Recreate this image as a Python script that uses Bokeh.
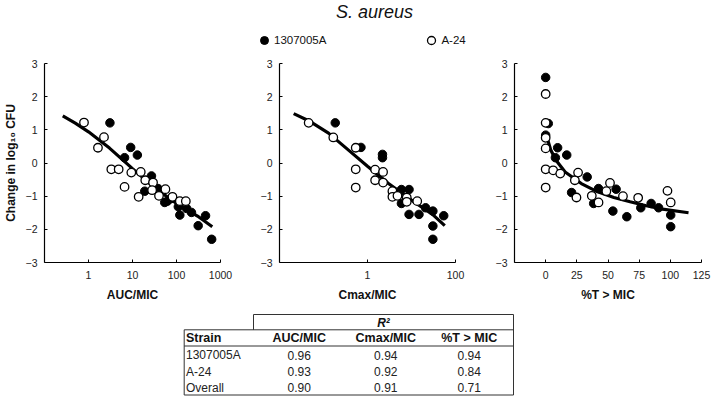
from bokeh.plotting import figure
from bokeh.layouts import column, row
from bokeh.models import Range1d, FixedTicker, PrintfTickFormatter, Legend, LegendItem
from bokeh.core.properties import value
from bokeh.embed import file_html
from bokeh.resources import INLINE

FONT = "Liberation Sans"
NAN = float("nan")

# ---------------- data ----------------
title_text = "S. aureus"
strain_names = ["1307005A", "A-24"]
y_label = "Change in log\u2081\u2080 CFU"
x_labels = ["AUC/MIC", "Cmax/MIC", "%T > MIC"]
y_ticks = [-3, -2, -1, 0, 1, 2, 3]

# Panel 1: AUC/MIC (log scale)
auc_ticks = [1, 10, 100, 1000]
auc_filled_x = [3.07, 9.1, 12.9, 6.6, 27, 19, 38, 54, 62, 77, 110, 119, 170, 219, 311, 457, 630]
auc_filled_y = [1.21, 0.47, 0.24, 0.16, -0.39, -0.85, -0.77, -1.19, -1.15, -1.07, -1.32, -1.57, -1.37, -1.49, -1.89, -1.59, -2.30]
auc_open_x = [0.79, 1.64, 2.25, 3.3, 4.85, 6.6, 9.4, 15.4, 13.8, 19.5, 29.3, 27.9, 40, 56, 81, 119, 163]
auc_open_y = [1.22, 0.46, 0.78, -0.19, -0.19, -0.72, -0.29, -0.27, -1.02, -0.52, -0.59, -0.82, -0.99, -0.79, -1.02, -1.15, -1.15]
auc_fit_x = [0.26, 0.5, 1, 3, 10, 30, 100, 300, 650]
auc_fit_y = [1.42, 1.2, 0.94, 0.45, -0.17, -0.72, -1.22, -1.6, -1.92]

# Panel 2: Cmax/MIC (log scale)
cmax_ticks = [1, 100]
cmax_filled_x = [0.185, 0.71, 2.19, 2.19, 5.9, 8.8, 5.9, 8.8, 14.8, 20.9, 30.6, 30.6, 30.6, 54]
cmax_filled_y = [1.21, 0.47, 0.26, 0.16, -0.80, -0.80, -1.22, -1.55, -1.55, -1.35, -1.45, -1.90, -2.30, -1.59]
cmax_open_x = [0.046, 0.167, 0.54, 0.54, 0.54, 1.49, 1.49, 2.26, 2.26, 3.68, 3.68, 4.8, 7.8, 7.8, 13.5]
cmax_open_y = [1.21, 0.77, 0.46, -0.19, -0.74, -0.20, -0.52, -0.27, -0.59, -0.85, -1.02, -0.99, -1.04, -1.17, -1.15]
cmax_fit_x = [0.021, 0.05, 0.13, 0.4, 1, 3, 10, 30, 57]
cmax_fit_y = [1.49, 1.25, 0.9, 0.35, -0.1, -0.62, -1.12, -1.55, -1.89]

# Panel 3: %T > MIC (linear)
t_ticks = [0, 25, 50, 75, 100, 125]
t_filled_x = [0, 2.1, 0, 9.6, 7.8, 16.9, 33.3, 20.8, 38.5, 42.4, 53.9, 56.5, 65.1, 76.3, 84.6, 90.6, 100.3, 100.3]
t_filled_y = [2.58, 1.19, 0.84, 0.46, 0.16, 0.24, -0.42, -0.89, -1.22, -0.77, -1.45, -0.79, -1.62, -1.35, -1.22, -1.35, -1.57, -1.92]
t_open_x = [0, 0, 0, 0, 0, 0, 6, 11.7, 23.4, 26, 24.7, 37, 42.4, 48.7, 51.6, 62, 74.2, 97.7, 100.3]
t_open_y = [2.08, 1.21, 0.76, 0.44, -0.19, -0.74, -0.22, -0.32, -0.52, -0.29, -1.04, -0.99, -1.19, -0.85, -0.60, -1.0, -1.05, -0.84, -1.19]
t_fit_x = [1.5, 4, 8, 15.6, 28.6, 41.7, 54.7, 67.7, 80.7, 93.75, 114.6]
t_fit_y = [0.72, 0.4, 0.1, -0.27, -0.62, -0.87, -1.04, -1.17, -1.29, -1.39, -1.5]

# R^2 table
table_header = ["Strain", "AUC/MIC", "Cmax/MIC", "%T > MIC"]
r2_title = "R\u00b2"
table_strains = ["1307005A", "A-24", "Overall"]
r2_auc = [0.96, 0.93, 0.90]
r2_cmax = [0.94, 0.92, 0.91]
r2_t = [0.94, 0.84, 0.71]

# ---------------- header ----------------
HW, HH = 704, 56
hdr = figure(width=HW, height=HH, x_range=Range1d(0, HW), y_range=Range1d(HH, 0),
             x_axis_location=None, y_axis_location=None, min_border=0,
             output_backend="svg", toolbar_location=None, outline_line_color=None)
hdr.grid.visible = False
hdr.text(x=[374], y=[11.5], text=[title_text], text_font=value(FONT), text_font_style="italic",
         text_font_size="18px", text_align="center", text_baseline="middle", text_color="#111111")
# legend-only renderers (no visible points)
r1 = hdr.scatter([NAN], [NAN], size=8, fill_color="black", line_color="black")
r2 = hdr.scatter([NAN], [NAN], size=8, fill_color="white", line_color="black", line_width=1.3)
leg = Legend(items=[LegendItem(label=strain_names[0], renderers=[r1]),
                    LegendItem(label=strain_names[1], renderers=[r2])],
             orientation="horizontal", location=(254, 6), glyph_width=20, glyph_height=20,
             label_standoff=0, spacing=95, padding=0, margin=0, border_line_color=None,
             background_fill_alpha=0, label_text_font=FONT, label_text_font_size="11.5px",
             label_text_color="#111111")
hdr.add_layout(leg)

# ---------------- panels ----------------
def panel(x_type, xr, ticks, fx, fy, ox, oy, cx, cy, xlabel, bl, fw, br, ylabel=None):
    p = figure(x_axis_type=x_type, x_range=xr, y_range=Range1d(-3, 3),
               frame_width=fw, frame_height=199, min_border_left=bl, min_border_right=br,
               min_border_top=7, min_border_bottom=38,
               output_backend="svg", toolbar_location=None, outline_line_color=None)
    p.grid.visible = False
    p.line(cx, cy, line_color="black", line_width=3.2)
    p.scatter(fx, fy, size=8.5, fill_color="black", line_color="black", line_width=1)
    p.scatter(ox, oy, size=8.5, fill_color="white", line_color="black", line_width=1.3)
    p.xaxis.ticker = FixedTicker(ticks=ticks, minor_ticks=[])
    p.yaxis.ticker = FixedTicker(ticks=y_ticks, minor_ticks=[])
    if x_type == "log":
        p.xaxis.formatter = PrintfTickFormatter(format="%d")
    for ax in (p.xaxis[0], p.yaxis[0]):
        ax.axis_line_color = "black"
        ax.axis_line_width = 1.2
        ax.major_tick_in = 3
        ax.major_tick_out = 0
        ax.major_tick_line_color = "black"
        ax.minor_tick_line_color = None
        ax.major_label_text_font = FONT
        ax.major_label_text_font_size = "10.5px"
        ax.major_label_text_color = "#222222"
        ax.axis_label_text_font = FONT
        ax.axis_label_text_font_style = "bold"
        ax.axis_label_text_font_size = "12px"
        ax.axis_label_text_color = "#111111"
    p.xaxis.major_label_standoff = 8
    p.xaxis.axis_label = xlabel
    p.xaxis.axis_label_standoff = 6
    p.yaxis.major_label_standoff = 7
    if ylabel:
        p.yaxis.axis_label = ylabel
        p.yaxis.axis_label_standoff = 5
    return p

f1 = panel("log", Range1d(0.1, 1000), auc_ticks, auc_filled_x, auc_filled_y, auc_open_x, auc_open_y,
           auc_fit_x, auc_fit_y, x_labels[0], 37, 176, 29, ylabel=y_label)
f2 = panel("log", Range1d(0.01, 100), cmax_ticks, cmax_filled_x, cmax_filled_y, cmax_open_x, cmax_open_y,
           cmax_fit_x, cmax_fit_y, x_labels[1], 30, 176, 34)
f3 = panel("linear", Range1d(-25, 125), t_ticks, t_filled_x, t_filled_y, t_open_x, t_open_y,
           t_fit_x, t_fit_y, x_labels[2], 25, 187, 10)

# ---------------- table ----------------
TW, TH = 704, 92
tbl = figure(width=TW, height=TH, x_range=Range1d(0, TW), y_range=Range1d(TH, 0),
             x_axis_location=None, y_axis_location=None, min_border=0,
             output_backend="svg", toolbar_location=None, outline_line_color=None)
tbl.grid.visible = False

t_left, t_mid, t_right = 183.7, 253, 513
t_top, t_r2, t_head, t_bot = 10, 25.3, 41.5, 90.5
row_h = (t_bot - t_head) / 3
col_centers = [298.7, 385.3, 468.7]

tbl.segment(x0=[t_mid, t_mid, t_right, t_left, t_left, t_left, t_left],
            y0=[t_top, t_top, t_top, t_r2, t_r2, t_head, t_bot],
            x1=[t_right, t_mid, t_right, t_right, t_left, t_right, t_right],
            y1=[t_top, t_r2, t_bot, t_r2, t_bot, t_head, t_bot],
            line_color="#333333", line_width=1)

tbl.text(x=[(t_mid + t_right) / 2], y=[(t_top + t_r2) / 2 + 0.5], text=[r2_title],
         text_font=value(FONT), text_font_style="bold italic", text_font_size="12px",
         text_align="center", text_baseline="middle", text_color="#111111")
hy = (t_r2 + t_head) / 2 + 0.5
tbl.text(x=[t_left + 1.8], y=[hy], text=[table_header[0]], text_font=value(FONT),
         text_font_style="bold", text_font_size="12.5px", text_align="left",
         text_baseline="middle", text_color="#111111")
tbl.text(x=col_centers, y=[hy] * 3, text=table_header[1:], text_font=value(FONT),
         text_font_style="bold", text_font_size="12.5px", text_align="center",
         text_baseline="middle", text_color="#111111")
row_y = [t_head + row_h * (i + 0.5) + 1 for i in range(len(table_strains))]
tbl.text(x=[t_left + 1.8] * len(table_strains), y=row_y, text=table_strains, text_font=value(FONT),
         text_font_size="12px", text_align="left", text_baseline="middle", text_color="#222222")
for cx, vals in zip(col_centers, [r2_auc, r2_cmax, r2_t]):
    tbl.text(x=[cx] * len(vals), y=row_y, text=["%.2f" % v for v in vals], text_font=value(FONT),
             text_font_size="12px", text_align="center", text_baseline="middle", text_color="#222222")

layout = column(hdr, row(f1, f2, f3), tbl)
open("out.html", "w").write(file_html(layout, INLINE))
